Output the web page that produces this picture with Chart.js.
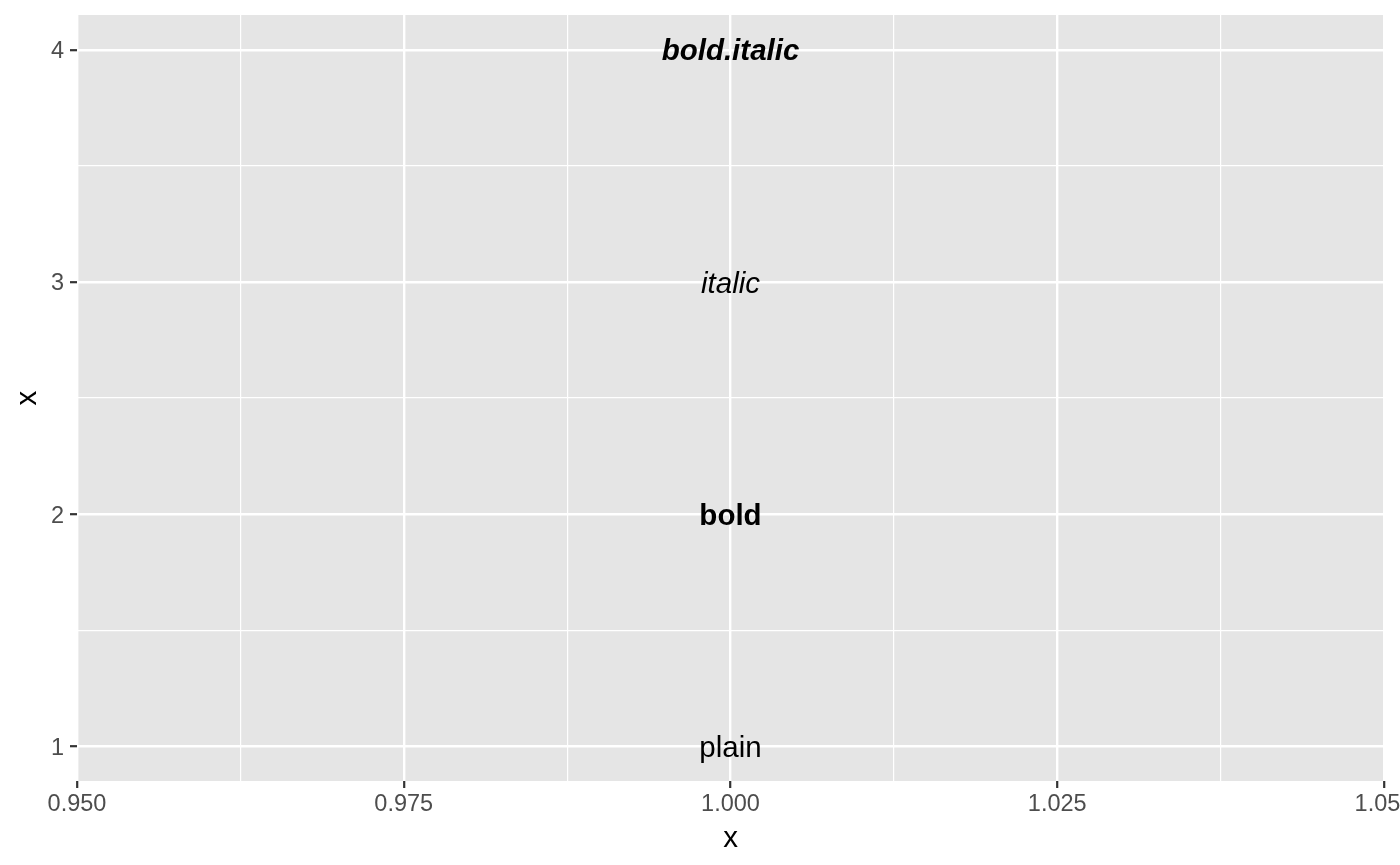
<!DOCTYPE html>
<html>
<head>
<meta charset="utf-8">
<script src="https://cdn.jsdelivr.net/npm/chart.js@4"></script>
<style>
  html, body { margin: 0; padding: 0; background: #ffffff; }
  #wrap { position: absolute; left: 0; top: 0; width: 1400px; height: 865px; overflow: hidden; }
  canvas { display: block; }
</style>
</head>
<body>
<div id="wrap"><canvas id="c" width="1430" height="865"></canvas></div>
<script>
// ---- data ----
const faceLabels = ['plain', 'bold', 'italic', 'bold.italic'];
const xValues = [1, 1, 1, 1];
const yValues = [1, 2, 3, 4];
const xTicks = [0.95, 0.9625, 0.975, 0.9875, 1.0, 1.0125, 1.025, 1.0375, 1.05];
const xMajorTicks = [0.95, 0.975, 1.0, 1.025, 1.05];
const yTicks = [1, 1.5, 2, 2.5, 3, 3.5, 4];
const yMajorTicks = [1, 2, 3, 4];
const xTitle = 'x';
const yTitle = 'x';

const FONT = '"Liberation Sans", Arial, Helvetica, sans-serif';
const faceStyle = {
  'plain': { style: 'normal', weight: 'normal' },
  'bold': { style: 'normal', weight: 'bold' },
  'italic': { style: 'italic', weight: 'normal' },
  'bold.italic': { style: 'italic', weight: 'bold' }
};

const isIn = (arr, v) => arr.some(a => Math.abs(a - v) < 1e-9);

const points = xValues.map((x, i) => ({ x: x, y: yValues[i], label: faceLabels[i] }));

const panelBg = {
  id: 'panelBg',
  beforeDraw(chart) {
    const { ctx, chartArea: a } = chart;
    ctx.save();
    ctx.fillStyle = '#E5E5E5';
    ctx.fillRect(a.left, a.top, a.right - a.left, a.bottom - a.top);
    ctx.restore();
  }
};

const textLabels = {
  id: 'textLabels',
  afterDatasetsDraw(chart) {
    const { ctx } = chart;
    const xs = chart.scales.x, ys = chart.scales.y;
    const ds = chart.data.datasets[0];
    ctx.save();
    ctx.fillStyle = '#000000';
    ctx.textAlign = 'center';
    ctx.textBaseline = 'middle';
    ds.data.forEach(p => {
      const f = faceStyle[p.label];
      ctx.font = f.style + ' ' + f.weight + ' 29.5px ' + FONT;
      ctx.fillText(p.label, xs.getPixelForValue(p.x), ys.getPixelForValue(p.y) + 2.5);
    });
    ctx.restore();
  }
};

new Chart(document.getElementById('c'), {
  type: 'scatter',
  data: {
    datasets: [{
      data: points,
      pointRadius: 0,
      pointHoverRadius: 0,
      showLine: false
    }]
  },
  options: {
    responsive: false,
    animation: false,
    events: [],
    layout: { padding: { left: 0, top: 15, right: 46, bottom: 0 } },
    plugins: { legend: { display: false }, tooltip: { enabled: false } },
    scales: {
      x: {
        type: 'linear',
        min: 0.95,
        max: 1.05,
        afterBuildTicks(scale) { scale.ticks = xTicks.map(v => ({ value: v })); },
        afterFit(scale) { scale.height = 84; scale.paddingLeft = 0; scale.paddingRight = 0; },
        border: { display: false },
        grid: {
          color: '#FFFFFF',
          lineWidth: (c) => isIn(xMajorTicks, c.tick.value) ? 2.4 : 1.2,
          drawTicks: true,
          tickLength: 7,
          tickWidth: 2.2,
          tickColor: (c) => isIn(xMajorTicks, c.tick.value) ? '#333333' : 'rgba(0,0,0,0)'
        },
        ticks: {
          autoSkip: false,
          maxRotation: 0,
          padding: 2,
          color: '#4D4D4D',
          font: { family: FONT, size: 23.5 },
          callback: (v) => isIn(xMajorTicks, v) ? Number(v).toFixed(3) : ''
        },
        title: {
          display: true,
          text: xTitle,
          color: '#000000',
          font: { family: FONT, size: 29.5 },
          padding: { top: 0, bottom: 8 }
        }
      },
      y: {
        type: 'linear',
        min: 0.85,
        max: 4.15,
        afterBuildTicks(scale) { scale.ticks = yTicks.map(v => ({ value: v })); },
        afterFit(scale) { scale.width = 77; scale.paddingTop = 0; scale.paddingBottom = 0; },
        border: { display: false },
        grid: {
          color: '#FFFFFF',
          lineWidth: (c) => isIn(yMajorTicks, c.tick.value) ? 2.4 : 1.2,
          drawTicks: true,
          tickLength: 7,
          tickWidth: 2.2,
          tickColor: (c) => isIn(yMajorTicks, c.tick.value) ? '#333333' : 'rgba(0,0,0,0)'
        },
        ticks: {
          autoSkip: false,
          padding: 6,
          labelOffset: 2,
          color: '#4D4D4D',
          font: { family: FONT, size: 23.5 },
          callback: (v) => isIn(yMajorTicks, v) ? String(v) : ''
        },
        title: {
          display: true,
          text: yTitle,
          color: '#000000',
          font: { family: FONT, size: 29.5 },
          padding: { top: 10, bottom: 0 }
        }
      }
    }
  },
  plugins: [panelBg, textLabels]
});
</script>
</body>
</html>
